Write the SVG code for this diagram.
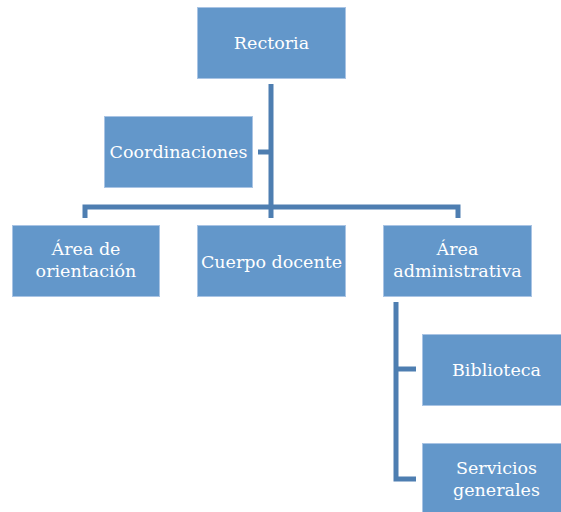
<svg xmlns="http://www.w3.org/2000/svg" width="561" height="512" viewBox="0 0 561 512">
<style>
.box{fill:#6397ca;stroke:#a9c4e4;stroke-width:1}
.lbl{font-family:"DejaVu Serif","Liberation Serif",serif;font-size:17.5px;fill:#ffffff;text-anchor:middle}
.con{fill:none;stroke:#4e7eb1;stroke-width:5;stroke-linejoin:miter;stroke-linecap:butt}
</style>
<rect width="561" height="512" fill="#ffffff"/>
<g id="connectors">
<path class="con" d="M271,84 V218"/>
<path class="con" d="M258,152 H271"/>
<path class="con" d="M85,218 V207 H458 V218"/>
<path class="con" d="M396,302 V479 H416"/>
<path class="con" d="M396,369 H416"/>
</g>
<g id="rectoria"><rect class="box" x="197.5" y="7.5" width="148" height="71"/><text class="lbl" x="271.5" y="49">Rectoria</text></g>
<g id="coordinaciones"><rect class="box" x="104.5" y="116.5" width="148" height="71"/><text class="lbl" x="178.5" y="158">Coordinaciones</text></g>
<g id="area-orientacion"><rect class="box" x="12.5" y="225.5" width="147" height="71"/><text class="lbl" x="86" y="255">Área de</text><text class="lbl" x="86" y="277">orientación</text></g>
<g id="cuerpo-docente"><rect class="box" x="197.5" y="225.5" width="148" height="71"/><text class="lbl" x="271.5" y="268">Cuerpo docente</text></g>
<g id="area-administrativa"><rect class="box" x="383.5" y="225.5" width="148" height="71"/><text class="lbl" x="457.5" y="255">Área</text><text class="lbl" x="457.5" y="277">administrativa</text></g>
<g id="biblioteca"><rect class="box" x="422.5" y="334.5" width="148" height="71"/><text class="lbl" x="496.5" y="376">Biblioteca</text></g>
<g id="servicios-generales"><rect class="box" x="422.5" y="443.5" width="148" height="71"/><text class="lbl" x="496.5" y="474">Servicios</text><text class="lbl" x="496.5" y="496">generales</text></g>
</svg>
